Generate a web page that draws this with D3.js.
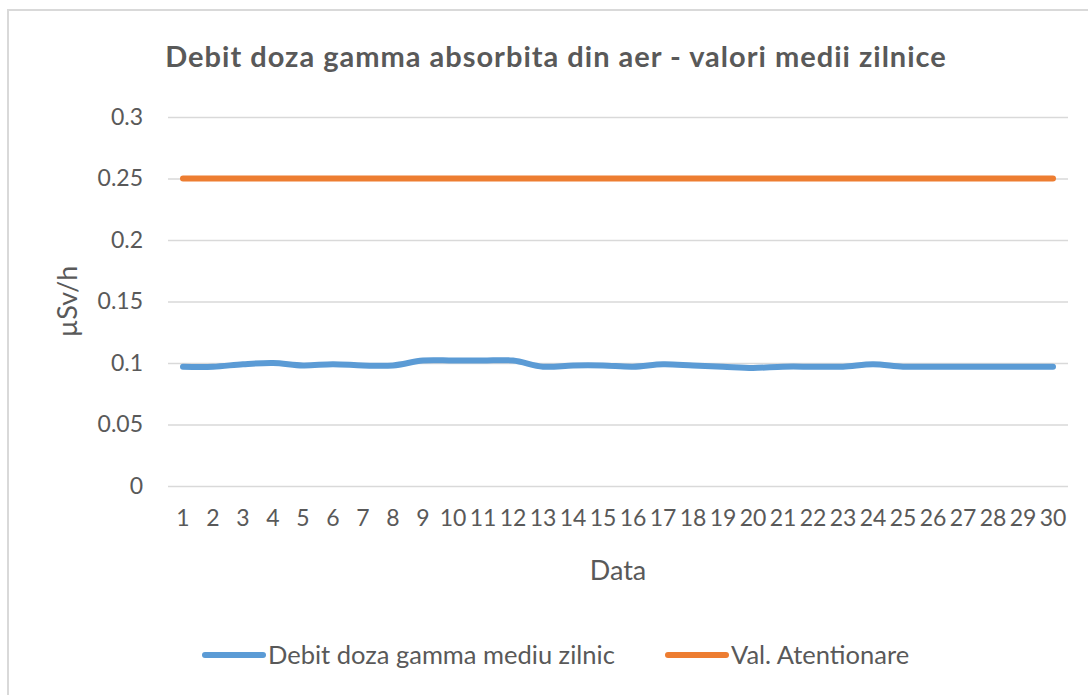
<!DOCTYPE html>
<html>
<head>
    <meta charset="utf-8">
    <title>Debit doza gamma</title>
    <style>
        body { margin: 0; background: #fff; }
        text { fill: #595959; }
    </style>
</head>
<body>
    <script src="https://cdn.jsdelivr.net/npm/d3@7/dist/d3.min.js"></script>
    <script>
        // data
        var days = ["1", "2", "3", "4", "5", "6", "7", "8", "9", "10",
            "11", "12", "13", "14", "15", "16", "17", "18", "19", "20",
            "21", "22", "23", "24", "25", "26", "27", "28", "29", "30"];
        var debitMediu = [0.097, 0.097, 0.099, 0.100, 0.098, 0.099, 0.098, 0.098, 0.102, 0.102,
            0.102, 0.102, 0.097, 0.098, 0.098, 0.097, 0.099, 0.098, 0.097, 0.096,
            0.097, 0.097, 0.097, 0.099, 0.097, 0.097, 0.097, 0.097, 0.097, 0.097];
        var valAtentionare = [0.25, 0.25, 0.25, 0.25, 0.25, 0.25, 0.25, 0.25, 0.25, 0.25,
            0.25, 0.25, 0.25, 0.25, 0.25, 0.25, 0.25, 0.25, 0.25, 0.25,
            0.25, 0.25, 0.25, 0.25, 0.25, 0.25, 0.25, 0.25, 0.25, 0.25];
        var yTicks = [0, 0.05, 0.1, 0.15, 0.2, 0.25, 0.3];
        var seriesNames = ["Debit doza gamma mediu zilnic", "Val. Atentionare"];
        var colors = ["#5b9bd5", "#ed7d31"];

        var W = 1088, H = 695;
        var plot = { left: 168, right: 1068, top: 117, bottom: 486 };
        var font = "Lato, 'Open Sans', sans-serif";

        var svg = d3.select("body").append("svg")
            .attr("width", W)
            .attr("height", H);

        // chart frame
        svg.append("rect")
            .attr("x", 8).attr("y", 10)
            .attr("width", W + 20).attr("height", H + 20)
            .attr("fill", "#fff")
            .attr("stroke", "#d9d9d9")
            .attr("stroke-width", 2);

        var x = d3.scaleBand().domain(days).range([plot.left, plot.right]);
        var y = d3.scaleLinear().domain([0, 0.3]).range([plot.bottom, plot.top]);
        function cx(d) { return x(d) + x.bandwidth() / 2; }

        // y axis + gridlines
        var gy = svg.append("g")
            .attr("transform", "translate(" + plot.left + ",0)")
            .call(d3.axisLeft(y).tickValues(yTicks).tickSize(-(plot.right - plot.left)).tickPadding(25)
                .tickFormat(function (d) { return String(+d.toFixed(2)); }));
        gy.select(".domain").remove();
        gy.selectAll("line").attr("stroke", "#d9d9d9").attr("stroke-width", 1.5);
        gy.selectAll("text")
            .style("font-family", font)
            .style("font-size", "23px")
            .attr("fill", "#595959");

        // x axis labels
        var gx = svg.append("g")
            .attr("transform", "translate(0," + plot.bottom + ")")
            .call(d3.axisBottom(x).tickSize(0).tickPadding(24));
        gx.select(".domain").remove();
        gx.selectAll("text")
            .style("font-family", font)
            .style("font-size", "23px")
            .attr("fill", "#595959");

        // lines
        var line = d3.line()
            .x(function (d, i) { return cx(days[i]); })
            .y(function (d) { return y(d); })
            .curve(d3.curveCatmullRom.alpha(0.5));

        [debitMediu, valAtentionare].forEach(function (s, k) {
            svg.append("path")
                .datum(s)
                .attr("fill", "none")
                .attr("stroke", colors[k])
                .attr("stroke-width", 6)
                .attr("stroke-linecap", "round")
                .attr("stroke-linejoin", "round")
                .attr("d", line);
        });

        // title
        svg.append("text")
            .attr("x", 556).attr("y", 67)
            .attr("text-anchor", "middle")
            .style("font-family", font)
            .style("font-weight", "bold")
            .style("font-size", "29px")
            .style("letter-spacing", "1px")
            .text("Debit doza gamma absorbita din aer - valori medii zilnice");

        // axis titles
        svg.append("text")
            .attr("x", (plot.left + plot.right) / 2).attr("y", 580)
            .attr("text-anchor", "middle")
            .style("font-family", font)
            .style("font-size", "27px")
            .text("Data");

        svg.append("text")
            .attr("transform", "translate(77," + ((plot.top + plot.bottom) / 2) + ") rotate(-90)")
            .attr("text-anchor", "middle")
            .style("font-family", font)
            .style("font-size", "27px")
            .text("µSv/h");

        // legend
        var legendX = [205, 668];
        seriesNames.forEach(function (name, k) {
            var g = svg.append("g").attr("transform", "translate(" + legendX[k] + ",655)");
            g.append("line")
                .attr("x1", 0).attr("x2", 58)
                .attr("stroke", colors[k])
                .attr("stroke-width", 6)
                .attr("stroke-linecap", "round");
            g.append("text")
                .attr("x", 63).attr("y", 9)
                .style("font-family", font)
                .style("font-size", "25.5px")
                .text(name);
        });
    </script>
</body>
</html>
